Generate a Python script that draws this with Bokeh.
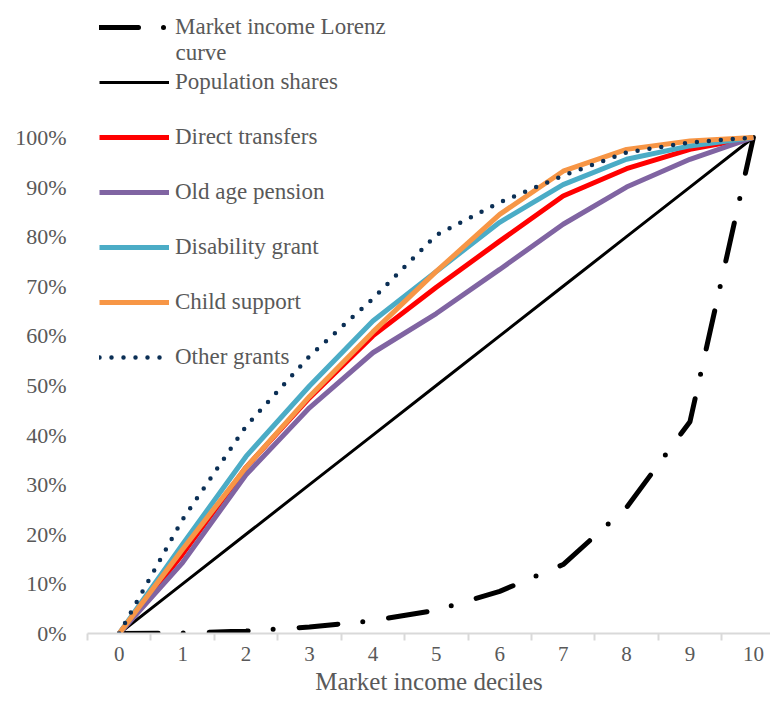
from bokeh.plotting import figure
from bokeh.models import Range1d, FixedTicker, PrintfTickFormatter, Legend, LegendItem, Label
from bokeh.embed import file_html
from bokeh.resources import INLINE

deciles = [0, 1, 2, 3, 4, 5, 6, 7, 8, 9, 10]
market_lorenz = [0, 0.1, 0.5, 1.3, 2.6, 4.7, 8.5, 13.9, 25.4, 42.7, 100]
population = [0, 10, 20, 30, 40, 50, 60, 70, 80, 90, 100]
direct_transfers = [0, 16, 33.5, 47.5, 60, 69.8, 79.1, 88.2, 93.7, 97.6, 100]
old_age_pension = [0, 14.3, 32, 45.5, 56.6, 64.5, 73.4, 82.5, 90, 95.6, 100]
disability_grant = [0, 18, 35.7, 49.9, 63, 73, 82.9, 90.5, 95.6, 98.3, 100]
child_support = [0, 17, 33.5, 47.8, 60.8, 73, 84.5, 93.2, 97.6, 99.3, 100]
other_grants = [0, 23, 41.8, 55.9, 67.5, 80.3, 86.9, 92.3, 97, 99, 100]
y_ticks = [0, 10, 20, 30, 40, 50, 60, 70, 80, 90, 100]
x_ticks = deciles
x_minor = [-0.5, 0.5, 1.5, 2.5, 3.5, 4.5, 5.5, 6.5, 7.5, 8.5, 9.5]

FONT = "'Liberation Serif', serif"
TXT = "#595959"

p = figure(width=770, height=697, output_backend="svg", toolbar_location=None,
           x_range=Range1d(-0.5, 10.27), y_range=Range1d(0, 125.8),
           min_border_left=87, min_border_right=0, min_border_top=9, min_border_bottom=64)
p.outline_line_color = None
p.grid.visible = False
p.background_fill_color = "white"

r_lor = p.line(deciles, market_lorenz, line_color="black", line_width=5,
               line_dash="39 25 0 26", line_cap="round")
r_pop = p.line(deciles, population, line_color="black", line_width=3)
r_dir = p.line(deciles, direct_transfers, line_color="#FF0000", line_width=5)
r_old = p.line(deciles, old_age_pension, line_color="#8064A2", line_width=5)
r_dis = p.line(deciles, disability_grant, line_color="#4BACC6", line_width=5)
r_chi = p.line(deciles, child_support, line_color="#F79646", line_width=5)
r_oth = p.line(deciles, other_grants, line_color="#0B2F55", line_width=4.5,
               line_dash="0 12", line_cap="round")

# x axis
xa = p.xaxis[0]
xa.ticker = FixedTicker(ticks=x_ticks, minor_ticks=x_minor)
xa.axis_line_color = "#D9D9D9"
xa.axis_line_width = 2
xa.major_tick_line_color = None
xa.major_tick_out = 0
xa.major_tick_in = 0
xa.minor_tick_line_color = "#D9D9D9"
xa.minor_tick_line_width = 2
xa.minor_tick_out = 7
xa.minor_tick_in = 0
xa.major_label_text_font = FONT
xa.major_label_text_font_size = "21px"
xa.major_label_text_color = TXT
xa.major_label_standoff = 6
xa.axis_label = "Market income deciles"
xa.axis_label_text_font = FONT
xa.axis_label_text_font_size = "25px"
xa.axis_label_text_font_style = "normal"
xa.axis_label_text_color = TXT
xa.axis_label_standoff = 4

# y axis
ya = p.yaxis[0]
ya.ticker = FixedTicker(ticks=y_ticks, minor_ticks=[])
ya.formatter = PrintfTickFormatter(format="%d%%")
ya.axis_line_color = None
ya.major_tick_line_color = None
ya.minor_tick_line_color = None
ya.major_tick_out = 0
ya.major_tick_in = 0
ya.major_label_text_font = FONT
ya.major_label_text_font_size = "22px"
ya.major_label_text_color = TXT
ya.major_label_standoff = 21

common = dict(padding=0, margin=0, spacing=29,
              label_height=26, glyph_height=26, glyph_width=70, label_standoff=6,
              background_fill_alpha=0, border_line_alpha=0,
              label_text_font=FONT, label_text_font_size="23px", label_text_color=TXT)

legend1 = Legend(items=[
    LegendItem(label="Market income Lorenz", renderers=[r_lor]),
], location=(12, 593), **common)
legend2 = Legend(items=[
    LegendItem(label="Population shares", renderers=[r_pop]),
    LegendItem(label="Direct transfers", renderers=[r_dir]),
    LegendItem(label="Old age pension", renderers=[r_old]),
    LegendItem(label="Disability grant", renderers=[r_dis]),
    LegendItem(label="Child support", renderers=[r_chi]),
    LegendItem(label="Other grants", renderers=[r_oth]),
], location=(12, 263), **common)
p.add_layout(legend1)
p.add_layout(legend2)

curve_label = Label(x=88, y=581, x_units="screen", y_units="screen", text="curve",
                    text_font=FONT, text_font_size="23px", text_color=TXT,
                    text_align="left", text_baseline="middle")
p.add_layout(curve_label)

open("out.html", "w").write(file_html(p, INLINE))
